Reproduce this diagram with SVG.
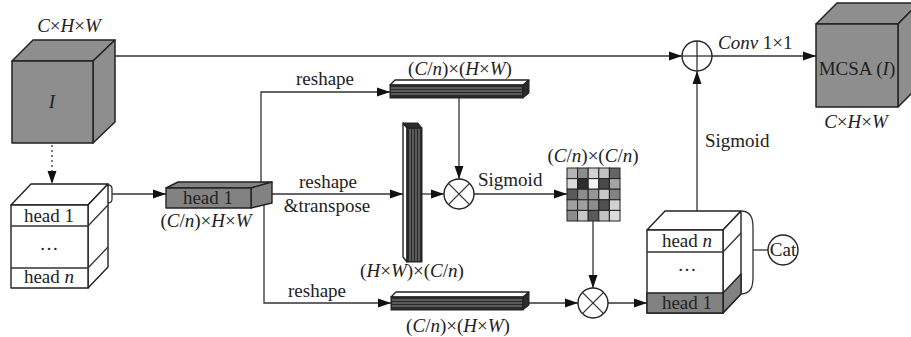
<svg xmlns="http://www.w3.org/2000/svg" width="911" height="337" viewBox="0 0 911 337" font-family="'Liberation Serif', 'Times New Roman', 'DejaVu Serif', serif" font-size="19">
<style>
text{font-family:'Liberation Serif','DejaVu Serif',serif;font-size:19px;fill:#222}
.i{font-style:italic}
.c{text-anchor:middle}
.ln{fill:none;stroke:#333;stroke-width:1.3}
.cube{fill:#8e8e8e;stroke:#222;stroke-width:1.5;stroke-linejoin:round}
.wf{fill:#fff;stroke:#222;stroke-width:1.4;stroke-linejoin:round}
.gf{fill:#828282;stroke:#222;stroke-width:1.4;stroke-linejoin:round}
.dk{fill:#2a2a2a;stroke:#222;stroke-width:1}
.st{stroke:#8a8a8a;stroke-width:1}
.op{fill:#fff;stroke:#222;stroke-width:1.4}
.cell{stroke:#222;stroke-width:1}
</style>
<defs>
<marker id="ah" markerUnits="userSpaceOnUse" markerWidth="14" markerHeight="10" refX="13" refY="5" orient="auto">
<path d="M0,0.5 L13,5 L0,9.5 z" fill="#111"/>
</marker>
</defs>

<g id="connectors">
<line class="ln" x1="97" y1="56" x2="682" y2="56" marker-end="url(#ah)"/>
<line class="ln" x1="52" y1="145" x2="52" y2="184" stroke-dasharray="2,3" marker-end="url(#ah)"/>
<path class="ln" d="M108,185 Q112,185 112,189 L112,199 Q112,203 108,203"/>
<line class="ln" x1="112" y1="194" x2="166" y2="194" marker-end="url(#ah)"/>
<polyline class="ln" points="261,183 261,92 390,92" marker-end="url(#ah)"/>
<line class="ln" x1="272" y1="194" x2="403" y2="194" marker-end="url(#ah)"/>
<polyline class="ln" points="264,204 264,303 391,303" marker-end="url(#ah)"/>
<line class="ln" x1="459" y1="98" x2="459" y2="179" marker-end="url(#ah)"/>
<line class="ln" x1="422" y1="194" x2="444" y2="194" marker-end="url(#ah)"/>
<line class="ln" x1="474" y1="194" x2="567" y2="194" marker-end="url(#ah)"/>
<line class="ln" x1="593" y1="221" x2="593" y2="288" marker-end="url(#ah)"/>
<line class="ln" x1="529" y1="303" x2="578" y2="303" marker-end="url(#ah)"/>
<line class="ln" x1="608" y1="303" x2="647" y2="303" marker-end="url(#ah)"/>
<line class="ln" x1="697" y1="211" x2="697" y2="71" marker-end="url(#ah)"/>
<line class="ln" x1="712" y1="56" x2="816" y2="56" marker-end="url(#ah)"/>
<path class="ln" d="M742,211 C751,212 753,218 753,228 L753,277 C753,287 751,293 742,294"/>
<line class="ln" x1="753" y1="250" x2="768" y2="250"/>
<text x="325" y="85" class="c">reshape</text>
<text x="328" y="188" class="c">reshape</text>
<text x="327" y="212" class="c">&amp;transpose</text>
<text x="317" y="297" class="c">reshape</text>
<text x="478" y="186">Sigmoid</text>
<text x="705" y="147">Sigmoid</text>
<text x="718" y="49"><tspan class="i">Conv</tspan> 1×1</text>
</g>

<g id="input-cube">
<polygon class="cube" points="12,61 33,40 115,40 93,61"/>
<polygon class="cube" points="93,61 115,40 115,122 93,143"/>
<rect class="cube" x="12" y="61" width="81" height="82"/>
<text x="52" y="108" class="c i">I</text>
<text x="69" y="32" class="c"><tspan class="i">C</tspan>×<tspan class="i">H</tspan>×<tspan class="i">W</tspan></text>
</g>

<g id="heads-stack">
<polygon class="wf" points="11,205 31,184 108,184 88,205"/>
<polygon class="wf" points="88,205 108,184 108,267 88,288"/>
<rect class="wf" x="11" y="205" width="77" height="83"/>
<line class="ln" x1="11" y1="226" x2="88" y2="226"/>
<line class="ln" x1="11" y1="268" x2="88" y2="268"/>
<line class="ln" x1="88" y1="226" x2="108" y2="205"/>
<line class="ln" x1="88" y1="268" x2="108" y2="247"/>
<text x="49" y="222" class="c">head 1</text>
<text x="49" y="250" class="c">…</text>
<text x="49" y="283" class="c">head <tspan class="i">n</tspan></text>
</g>

<g id="head1-block">
<polygon class="gf" points="166,188 178,182 272,182 251,188"/>
<polygon class="gf" points="251,188 272,182 272,203 251,208"/>
<rect class="gf" x="166" y="188" width="85" height="20"/>
<text x="208" y="204" class="c">head 1</text>
<text x="206" y="227" class="c">(<tspan class="i">C</tspan>/<tspan class="i">n</tspan>)×<tspan class="i">H</tspan>×<tspan class="i">W</tspan></text>
</g>

<g id="top-bar">
<polygon class="wf" points="390,85 395,80 529,80 523,85"/>
<polygon class="dk" points="523,85 529,80 529,93 523,98"/>
<rect class="dk" x="390" y="85" width="133" height="13"/>
<line class="st" x1="391" y1="88" x2="522" y2="88"/>
<line class="st" x1="391" y1="91" x2="522" y2="91"/>
<line class="st" x1="391" y1="94" x2="522" y2="94"/>
<text x="460" y="75" class="c">(<tspan class="i">C</tspan>/<tspan class="i">n</tspan>)×(<tspan class="i">H</tspan>×<tspan class="i">W</tspan>)</text>
</g>

<g id="vertical-bar">
<polygon class="wf" points="403,123 407,128 407,262 403,257"/>
<polygon class="dk" points="403,123 418,123 422,128 407,128"/>
<rect class="dk" x="407" y="128" width="15" height="134"/>
<line class="st" x1="410" y1="129" x2="410" y2="261"/>
<line class="st" x1="413" y1="129" x2="413" y2="261"/>
<line class="st" x1="416" y1="129" x2="416" y2="261"/>
<line class="st" x1="419" y1="129" x2="419" y2="261"/>
<text x="412" y="277" class="c">(<tspan class="i">H</tspan>×<tspan class="i">W</tspan>)×(<tspan class="i">C</tspan>/<tspan class="i">n</tspan>)</text>
</g>

<g id="mult-1">
<circle class="op" cx="459" cy="194" r="15"/>
<line class="ln" x1="448.4" y1="183.4" x2="469.6" y2="204.6"/>
<line class="ln" x1="448.4" y1="204.6" x2="469.6" y2="183.4"/>
</g>

<g id="matrix">
<text x="593" y="162" class="c">(<tspan class="i">C</tspan>/<tspan class="i">n</tspan>)×(<tspan class="i">C</tspan>/<tspan class="i">n</tspan>)</text>
<rect class="cell" x="567" y="168" width="10.6" height="10.6" fill="#b4b4b4"/>
<rect class="cell" x="577.6" y="168" width="10.6" height="10.6" fill="#8c8c8c"/>
<rect class="cell" x="588.2" y="168" width="10.6" height="10.6" fill="#d2d2d2"/>
<rect class="cell" x="598.8" y="168" width="10.6" height="10.6" fill="#c3c3c3"/>
<rect class="cell" x="609.4" y="168" width="10.6" height="10.6" fill="#646464"/>
<rect class="cell" x="567" y="178.6" width="10.6" height="10.6" fill="#dadada"/>
<rect class="cell" x="577.6" y="178.6" width="10.6" height="10.6" fill="#2e2e2e"/>
<rect class="cell" x="588.2" y="178.6" width="10.6" height="10.6" fill="#f2f2f2"/>
<rect class="cell" x="598.8" y="178.6" width="10.6" height="10.6" fill="#4a4a4a"/>
<rect class="cell" x="609.4" y="178.6" width="10.6" height="10.6" fill="#a5a5a5"/>
<rect class="cell" x="567" y="189.2" width="10.6" height="10.6" fill="#5a5a5a"/>
<rect class="cell" x="577.6" y="189.2" width="10.6" height="10.6" fill="#8c8c8c"/>
<rect class="cell" x="588.2" y="189.2" width="10.6" height="10.6" fill="#969696"/>
<rect class="cell" x="598.8" y="189.2" width="10.6" height="10.6" fill="#c8c8c8"/>
<rect class="cell" x="609.4" y="189.2" width="10.6" height="10.6" fill="#828282"/>
<rect class="cell" x="567" y="199.8" width="10.6" height="10.6" fill="#a0a0a0"/>
<rect class="cell" x="577.6" y="199.8" width="10.6" height="10.6" fill="#a0a0a0"/>
<rect class="cell" x="588.2" y="199.8" width="10.6" height="10.6" fill="#8c8c8c"/>
<rect class="cell" x="598.8" y="199.8" width="10.6" height="10.6" fill="#505050"/>
<rect class="cell" x="609.4" y="199.8" width="10.6" height="10.6" fill="#d2d2d2"/>
<rect class="cell" x="567" y="210.4" width="10.6" height="10.6" fill="#8c8c8c"/>
<rect class="cell" x="577.6" y="210.4" width="10.6" height="10.6" fill="#c8c8c8"/>
<rect class="cell" x="588.2" y="210.4" width="10.6" height="10.6" fill="#5a5a5a"/>
<rect class="cell" x="598.8" y="210.4" width="10.6" height="10.6" fill="#c3c3c3"/>
<rect class="cell" x="609.4" y="210.4" width="10.6" height="10.6" fill="#dcdcdc"/>
</g>

<g id="bottom-bar">
<polygon class="wf" points="391,297 396,292 529,292 523,297"/>
<polygon class="dk" points="523,297 529,292 529,305 523,310"/>
<rect class="dk" x="391" y="297" width="132" height="13"/>
<line class="st" x1="392" y1="300" x2="522" y2="300"/>
<line class="st" x1="392" y1="303" x2="522" y2="303"/>
<line class="st" x1="392" y1="306" x2="522" y2="306"/>
<text x="458" y="332" class="c">(<tspan class="i">C</tspan>/<tspan class="i">n</tspan>)×(<tspan class="i">H</tspan>×<tspan class="i">W</tspan>)</text>
</g>

<g id="mult-2">
<circle class="op" cx="593" cy="303" r="15"/>
<line class="ln" x1="582.4" y1="292.4" x2="603.6" y2="313.6"/>
<line class="ln" x1="582.4" y1="313.6" x2="603.6" y2="292.4"/>
</g>

<g id="cat-stack">
<polygon class="wf" points="647,230 665,211 741,211 723,230"/>
<polygon class="wf" points="723,230 741,211 741,294 723,313"/>
<polygon class="gf" points="723,293 741,274 741,294 723,313"/>
<rect class="wf" x="647" y="230" width="76" height="83"/>
<rect class="gf" x="647" y="293" width="76" height="20"/>
<line class="ln" x1="647" y1="252" x2="723" y2="252"/>
<line class="ln" x1="723" y1="252" x2="741" y2="233"/>
<text x="687" y="247" class="c">head  <tspan class="i">n</tspan></text>
<text x="687" y="271" class="c">…</text>
<text x="687" y="309" class="c">head  1</text>
</g>

<g id="cat">
<circle class="op" cx="783" cy="250" r="15"/>
<text x="783" y="256" class="c">Cat</text>
</g>

<g id="add">
<circle class="op" cx="697" cy="56" r="15"/>
<line class="ln" x1="682" y1="56" x2="712" y2="56"/>
<line class="ln" x1="697" y1="41" x2="697" y2="71"/>
</g>

<g id="output-cube">
<polygon class="cube" points="816,24 837,3 919,3 898,24"/>
<polygon class="cube" points="898,24 919,3 919,86 898,107"/>
<rect class="cube" x="816" y="24" width="82" height="83"/>
<text x="857" y="75" class="c">MCSA (<tspan class="i">I</tspan>)</text>
<text x="856" y="128" class="c"><tspan class="i">C</tspan>×<tspan class="i">H</tspan>×<tspan class="i">W</tspan></text>
</g>
</svg>
